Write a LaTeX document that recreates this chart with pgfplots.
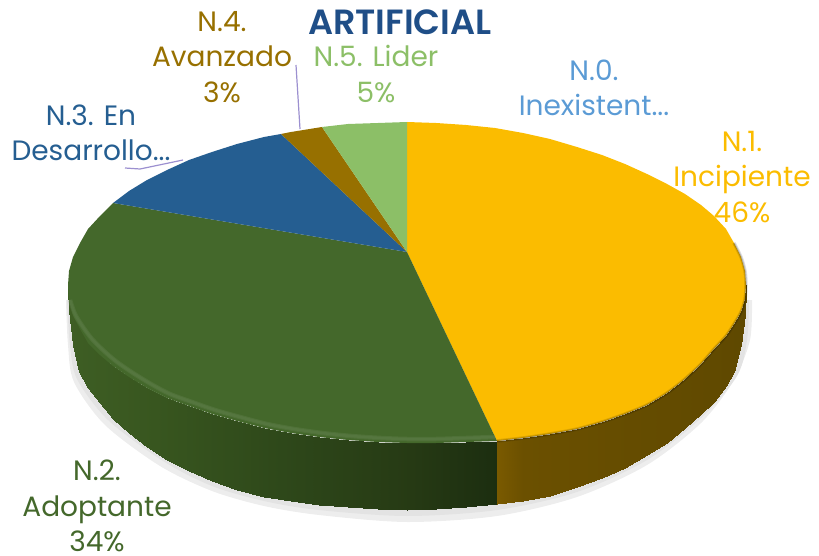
\documentclass[border=0pt]{standalone}
\usepackage{fontspec}
\setmainfont[BoldFont={Poppins SemiBold}]{Poppins}
\usepackage{pgfplots}
\pgfplotsset{compat=1.18}
\definecolor{cYellow}{HTML}{FBBC00}
\definecolor{cGreen}{HTML}{44682B}
\definecolor{cBlue}{HTML}{255E91}
\definecolor{cBrown}{HTML}{977000}
\definecolor{cLight}{HTML}{8CBF67}
\definecolor{cSky}{HTML}{5B9BD5}
\definecolor{cTitle}{HTML}{1F4E87}
\definecolor{cLead}{HTML}{9C90D0}
\pgfplotsset{
  colormap={sideGreen}{rgb255(0)=(62,94,36) rgb255(2)=(56,86,31) rgb255(5)=(46,72,26) rgb255(8)=(38,58,20) rgb255(10)=(28,46,16)},
  colormap={sideYellow}{rgb255(0)=(122,90,0) rgb255(1)=(107,80,0) rgb255(10)=(94,72,0)},
}
\tikzset{lbl/.style={align=center,inner sep=0pt,font=\fontsize{28}{35.5}\selectfont}}
\begin{document}
\begin{tikzpicture}
\useasboundingbox (0,0) rectangle (819pt,556pt);
\begin{axis}[
    scale only axis, width=819pt, height=556pt,
    xmin=0, xmax=819, ymin=0, ymax=556, y dir=reverse,
    hide axis, point meta min=0, point meta max=1,
]
% shadow under the pie
\addplot[smooth, fill=black!7, draw=none] coordinates {(66,300) (68,345) (74,382) (105,425) (160,466) (212,491) (264,506) (319,515) (407,522) (497,516) (577,497) (647,465) (701,423) (734,380) (750,340) (752,300)};
\addplot[smooth, fill=black!11, draw=none] coordinates {(67,300) (70,345) (77,379) (108,420) (163,461) (212,486) (264,501) (319,510) (407,516) (497,510) (577,492) (647,460) (701,418) (737,376) (747,340) (749,300)};
% side wall N.2
\addplot[surf, shader=interp, colormap name=sideGreen, mesh/rows=2, point meta=explicit] table[meta=c] {
x y c
68 285 0
69 300 0
73 316 .01
80 329 .03
88 343 .05
100 355 .07
113 366 .10
129 377 .14
147 388 .18
167 398 .23
189 406 .28
212 414 .34
237 421 .39
264 428 .46
291 433 .52
319 437 .59
348 440 .65
378 442 .72
407 443 .79
436 443 .86
466 442 .93
497 441 1
68 290 0
69 310 0
73 345 .01
79 372 .03
88 388 .05
100 403 .07
113 419 .10
129 433 .14
147 447 .18
167 460 .23
189 471 .28
212 481 .34
237 490 .39
264 497 .46
291 501 .52
319 505 .59
348 507 .65
378 509 .72
407 510 .79
436 509 .86
466 507 .93
497 504 1
};
% side wall N.1
\addplot[surf, shader=interp, colormap name=sideYellow, mesh/rows=2, point meta=explicit] table[meta=c] {
x y c
497 441 0
523 438 .1
550 434 .2
577 429 .3
602 422 .4
625 414 .5
647 405 .57
667 393 .65
685 379 .7
701 364 .75
714 349 .8
726 336 .85
734 324 .9
741 312 .93
745 299 .97
746 285 1
497 504 0
523 501 .1
550 496 .2
577 487 .3
602 478 .4
625 468 .5
647 455 .57
667 443 .65
685 428 .7
701 414 .75
714 402 .8
726 386 .85
734 372 .9
741 345 .93
745 315 .97
746 290 1
};
% top face, slice by slice
\addplot[fill=cYellow, draw=none] coordinates {(407,252) (407,122) (436,123) (466,125) (495,128) (523,133) (550,139) (577,147) (602,155) (625,164) (647,174) (667,184) (685,194) (701,205) (714,216) (726,229) (734,243) (741,257) (745,271) (746,285) (745,299) (741,312) (734,324) (726,336) (714,349) (701,364) (685,379) (667,393) (647,405) (625,414) (602,422) (577,429) (550,434) (523,438) (497,441)} --cycle;
\addplot[fill=cGreen, draw=none] coordinates {(407,252) (113,203) (100,216) (88,229) (80,243) (73,257) (69,271) (68,285) (69,300) (73,316) (80,329) (88,343) (100,355) (113,366) (129,377) (147,388) (167,398) (189,406) (212,414) (237,421) (264,428) (291,433) (319,437) (348,440) (378,442) (407,443) (436,443) (466,442) (497,441)} --cycle;
\addplot[fill=cBlue, draw=none] coordinates {(407,252) (281,134) (264,137) (237,144) (212,152) (189,160) (167,170) (147,180) (129,191) (113,203)} --cycle;
\addplot[fill=cBrown, draw=none] coordinates {(407,252) (322,127) (291,132) (281,134)} --cycle;
\addplot[fill=cLight, draw=none] coordinates {(407,252) (407,122) (378,123) (348,124) (322,127)} --cycle;
% bevel along the rim, wide and soft
\addplot[smooth, draw=cGreen!75!white, line width=4.5pt, opacity=.25] coordinates {(70,300) (75,314) (83,327) (92,339) (104,351) (117,362) (133,373) (151,384) (170,394) (192,402) (215,410) (240,417) (267,424) (294,429) (322,433) (351,436) (381,438) (407,439) (436,439) (466,438) (495,437)};
\addplot[smooth, draw=cGreen!85!white, line width=2.5pt, opacity=.4] coordinates {(70,300) (75,314) (83,327) (92,339) (104,351) (117,362) (133,373) (151,384) (170,394) (192,402) (215,410) (240,417) (267,424) (294,429) (322,433) (351,436) (381,438) (407,439) (436,439) (466,438) (495,437)};
\addplot[smooth, draw=black, line width=3.5pt, opacity=.12] coordinates {(497,441) (523,438) (550,434) (577,429) (602,422) (625,414) (647,405) (667,393) (685,379) (701,364) (714,349) (726,336) (734,324) (741,312) (745,299) (746,285) (745,271) (741,257) (734,243)};
\addplot[smooth, draw=black, line width=1.6pt, opacity=.18] coordinates {(497,441) (523,438) (550,434) (577,429) (602,422) (625,414) (647,405) (667,393) (685,379) (701,364) (714,349) (726,336) (734,324) (741,312) (745,299) (746,285) (745,271) (741,257) (734,243)};
% leader lines
\addplot[cLead, line width=1.2pt] coordinates {(296,65) (300,129)};
\addplot[cLead, line width=1.2pt] coordinates {(125,168) (140,169) (183,160)};
% labels
\node[lbl, text=cTitle, font=\fontsize{35}{35}\selectfont\bfseries] at (axis cs:400,22) {ARTIFICIAL};
\node[lbl, text=cBrown] at (axis cs:222,57) {N.4.\\Avanzado\\3\%};
\node[lbl, text=cLight] at (axis cs:376,74) {N.5. Lider\\5\%};
\node[lbl, text=cSky] at (axis cs:594,88) {N.0.\\Inexistent...};
\node[lbl, text=cYellow] at (axis cs:742,177) {N.1.\\Incipiente\\46\%};
\node[lbl, text=cBlue] at (axis cs:91,133) {N.3. En\\Desarrollo...};
\node[lbl, text=cGreen] at (axis cs:97,506) {N.2.\\Adoptante\\34\%};
\end{axis}
\end{tikzpicture}
\end{document}
